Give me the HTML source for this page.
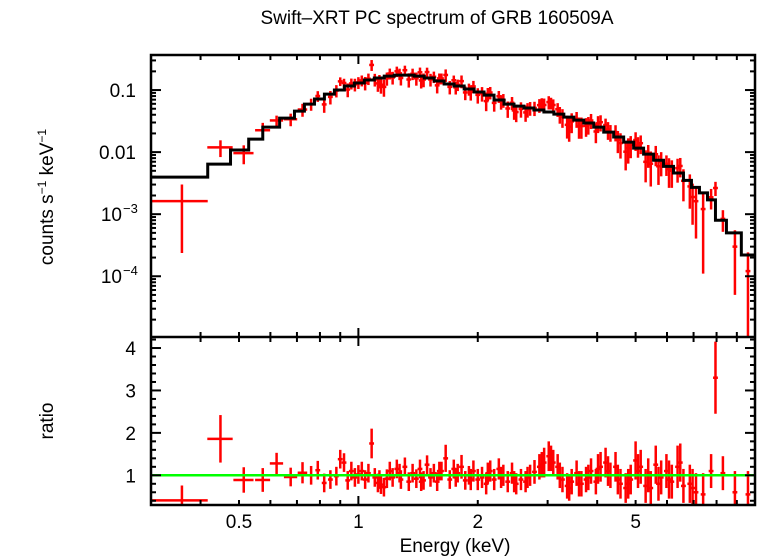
<!DOCTYPE html>
<html><head><meta charset="utf-8"><style>
html,body{margin:0;padding:0;background:#fff}
svg{display:block;font-family:"Liberation Sans",sans-serif}
</style></head><body>
<svg id="c" width="758" height="556" viewBox="0 0 758 556">
<text x="437" y="24" text-anchor="middle" font-size="19">Swift–XRT PC spectrum of GRB 160509A</text>
<text transform="translate(53,197) rotate(-90)" text-anchor="middle" font-size="19">counts s<tspan font-size="12" dy="-7">−1</tspan><tspan dy="7"> keV</tspan><tspan font-size="12" dy="-7">−1</tspan></text>
<text transform="translate(53,421) rotate(-90)" text-anchor="middle" font-size="19">ratio</text>
<text x="455" y="552" text-anchor="middle" font-size="19">Energy (keV)</text>
<g id="g"></g>
</svg>
<script>
// model bin edges (keV) and model values (counts/s/keV)
const modelEdges=[0.300,0.417,0.476,0.529,0.574,0.633,0.690,0.731,0.775,0.821,0.870,0.922,0.977,1.035,1.097,1.162,1.232,1.305,1.383,1.466,1.553,1.645,1.743,1.848,1.958,2.074,2.198,2.329,2.468,2.615,2.770,2.936,3.111,3.296,3.493,3.701,3.921,4.155,4.402,4.665,4.943,5.237,5.549,5.880,6.230,6.601,6.915,7.244,7.589,7.949,8.472,9.237,9.96];
const modelValues=[0.00395,0.0064,0.0108,0.0162,0.0253,0.0353,0.0458,0.0594,0.0716,0.0861,0.100,0.116,0.130,0.145,0.156,0.168,0.174,0.174,0.168,0.156,0.140,0.125,0.116,0.104,0.093,0.083,0.069,0.0594,0.0552,0.0513,0.0476,0.0442,0.041,0.0367,0.0328,0.0294,0.0253,0.021,0.0175,0.0145,0.0116,0.0093,0.0074,0.0059,0.0046,0.0035,0.0027,0.0022,0.0017,0.0008,0.0005,0.00022];
// data: energies, bin half-widths, ratio to model, ratio error
const energies=[0.359,0.449,0.514,0.574,0.622,0.675,0.723,0.76,0.79,0.82,0.85,0.88,0.90,0.92,0.94,0.96,0.98,1.00,1.02,1.04,1.06,1.08,1.10,1.12,1.14,1.16,1.18,1.20,1.22,1.25,1.28,1.31,1.34,1.37,1.40,1.43,1.46,1.49,1.52,1.55,1.58,1.62,1.66,1.70,1.74,1.78,1.82,1.86,1.90,1.95,2.00,2.05,2.10,2.15,2.20,2.26,2.32,2.38,2.44,2.50,2.57,2.64,2.71,2.78,2.86,2.94,3.02,3.10,3.18,3.27,3.36,3.45,3.55,3.65,3.75,3.86,3.97,4.08,4.20,4.32,4.45,4.58,4.72,4.86,5.00,5.15,5.30,5.46,5.62,5.80,5.98,6.17,6.38,6.60,6.85,7.10,7.40,7.75,7.95,8.3,8.9,9.6,
1.13,1.27,1.44,1.60,1.76,1.92,2.12,2.29,2.47,2.67,2.90,3.06,3.22,3.40,3.60,3.80,4.02,4.26,4.51,4.79,5.07,5.38,5.71,6.07,6.48,6.96];
const halfWidths=[0.058,0.033,0.030,0.025,0.024,0.026,0.020];
const ratios=[0.41,1.86,0.89,0.89,1.28,0.96,1.06,1.0,1.12,0.82,0.9,0.98,1.38,1.3,0.88,1.1,0.95,1.02,1.1,0.9,1.05,1.75,0.95,0.82,0.78,0.72,0.92,1.1,0.95,1.15,0.9,1.2,0.85,1.05,0.92,1.15,0.88,1.25,0.95,1.05,0.85,1.1,1.4,0.9,1.15,1.05,1.2,0.88,1.0,1.1,0.9,0.95,0.8,1.1,0.9,1.15,1.0,0.85,1.05,0.8,0.9,0.85,1.0,1.08,1.2,1.3,1.45,1.3,1.2,0.9,0.75,0.85,1.05,0.8,0.9,1.1,0.85,1.2,1.3,1.0,1.2,0.8,0.7,0.9,1.35,1.2,0.75,0.7,1.25,0.95,1.1,0.85,1.2,0.75,0.8,0.6,0.55,1.1,3.3,1.05,0.6,0.55,
0.9,1.05,0.85,1.1,0.95,0.9,1.05,0.95,0.85,0.95,1.25,1.4,1.0,0.7,0.8,0.95,1.15,1.1,0.9,0.8,1.1,1.0,0.8,0.9,1.3,0.7];
const ratioErrs=[0.35,0.56,0.3,0.28,0.25,0.22,0.25,0.22,0.22,0.22,0.22,0.22,0.22,0.22,0.22,0.22,0.22,0.22,0.22,0.22,0.22,0.35,0.22,0.22,0.22,0.22,0.22,0.22,0.22,0.22,0.22,0.22,0.22,0.22,0.22,0.22,0.22,0.22,0.22,0.22,0.22,0.22,0.32,0.22,0.22,0.22,0.28,0.22,0.22,0.25,0.25,0.25,0.25,0.25,0.25,0.25,0.25,0.25,0.25,0.25,0.25,0.25,0.25,0.28,0.3,0.35,0.35,0.3,0.3,0.3,0.3,0.3,0.3,0.3,0.3,0.3,0.3,0.35,0.35,0.3,0.35,0.35,0.35,0.35,0.45,0.4,0.4,0.4,0.45,0.4,0.4,0.4,0.5,0.4,0.45,0.45,0.5,0.4,0.85,0.4,0.5,0.55,
0.22,0.22,0.22,0.22,0.22,0.25,0.25,0.25,0.25,0.25,0.3,0.3,0.3,0.3,0.3,0.3,0.35,0.35,0.35,0.35,0.4,0.4,0.4,0.45,0.45,0.45];
const xTickLabels=["0.5","1","2","5"];
const xTickValues=[0.5,1,2,5];
const yTickLabels=["0.1","0.01","10","10"];
const yTickExp=[null,null,"−3","−4"];
const yTickValues=[0.1,0.01,0.001,0.0001];
const rTickValues=[1,2,3,4];

const L=151,R=755,T=55,M=337,B=505;
const xmin=0.3,xmax=10,ymin=1.05e-5,ymax=0.367,rmin=0.3,rmax=4.26;
const X=e=>L+(Math.log10(e)-Math.log10(xmin))/(Math.log10(xmax)-Math.log10(xmin))*(R-L);
const Y=v=>{v=Math.max(v,ymin*0.5);return M-(Math.log10(v)-Math.log10(ymin))/(Math.log10(ymax)-Math.log10(ymin))*(M-T);};
const YR=r=>B-(r-rmin)/(rmax-rmin)*(B-M);
const NS="http://www.w3.org/2000/svg";
const gRoot=document.getElementById('g');
function mk(t,a,p){const el=document.createElementNS(NS,t);for(const k in a)el.setAttribute(k,a[k]);(p||gRoot).appendChild(el);return el;}
function modelAt(e){for(let i=0;i<modelValues.length;i++){if(e>=modelEdges[i]&&e<modelEdges[i+1])return modelValues[i];}return modelValues[modelValues.length-1];}

const defsEl=mk('defs',{});
const cp1=mk('clipPath',{id:'cpTop'},defsEl);mk('rect',{x:L,y:T,width:R-L,height:M-T},cp1);
const cp2=mk('clipPath',{id:'cpBot'},defsEl);mk('rect',{x:L,y:M,width:R-L,height:B-M},cp2);
const topG=mk('g',{'clip-path':'url(#cpTop)'});


const botG=mk('g',{'clip-path':'url(#cpBot)'});



energies.forEach((e,i)=>{
  const hw=i<halfWidths.length?halfWidths[i]:e*0.014;
  const m=modelAt(e);
  const v=ratios[i]*m, er=ratioErrs[i]*m;
  const x=X(e),x0=X(e-hw),x1=X(e+hw);
  const dp=mk('g',{stroke:'#ff0000','stroke-width':2.5},topG);
  
  
  mk('line',{x1:x0,x2:x1,y1:Y(v),y2:Y(v)},dp);
  mk('line',{x1:x,x2:x,y1:Y(v+er),y2:Y(v-er)},dp);
  const rp=mk('g',{stroke:'#ff0000','stroke-width':2.5},botG);
  
  
  mk('line',{x1:x0,x2:x1,y1:YR(ratios[i]),y2:YR(ratios[i])},rp);
  mk('line',{x1:x,x2:x,y1:YR(ratios[i]+ratioErrs[i]),y2:YR(Math.max(ratios[i]-ratioErrs[i],0))},rp);
});
let d='';
modelValues.forEach((v,i)=>{const x0=X(modelEdges[i]),x1=X(modelEdges[i+1]),y=Y(v);d+=(i===0?'M':'L')+x0+','+y+'L'+x1+','+y;});
const mp=mk('path',{d:d,fill:'none',stroke:'#000','stroke-width':3},topG);


const gl=mk('line',{x1:L,x2:R,y1:YR(1),y2:YR(1),stroke:'#00ff00','stroke-width':2.5},botG);



const fr=mk('g',{stroke:'#000','stroke-width':2.5,fill:'none'});


mk('rect',{x:L,y:T,width:R-L,height:B-T},fr);
mk('line',{x1:L,x2:R,y1:M,y2:M},fr);
const tk=mk('g',{stroke:'#000','stroke-width':2});


[0.1,1].forEach(dec=>{for(let k=1;k<=9;k++){const e=k*dec;if(e<xmin-1e-9||e>xmax+1e-9)continue;const x=X(e);const len=(k===1)?9:5;
  [T,M].forEach(y=>mk('line',{x1:x,x2:x,y1:y,y2:y+len},tk));
  [M,B].forEach(y=>mk('line',{x1:x,x2:x,y1:y,y2:y-len},tk));}});
for(let p=-5;p<0;p++){for(let k=1;k<=9;k++){const v=k*Math.pow(10,p);if(v<ymin||v>ymax)continue;const y=Y(v);const len=k===1?10:5;
  mk('line',{x1:L,x2:L+len,y1:y,y2:y},tk);mk('line',{x1:R,x2:R-len,y1:y,y2:y},tk);}}
for(let i=2;i<=21;i++){const rr=i/5;const y=YR(rr);const len=(i%5===0)?10:5;
  mk('line',{x1:L,x2:L+len,y1:y,y2:y},tk);mk('line',{x1:R,x2:R-len,y1:y,y2:y},tk);}
xTickValues.forEach((e,i)=>{const t=mk('text',{x:X(e),y:528,'text-anchor':'middle','font-size':19});t.textContent=xTickLabels[i];
  
  });
yTickValues.forEach((v,i)=>{const t=mk('text',{x:yTickExp[i]?122:136,y:Y(v)+7,'text-anchor':'end','font-size':19});t.textContent=yTickLabels[i];
  
  
  if(yTickExp[i]){const s=mk('text',{x:123,y:Y(v)-1,'font-size':13});s.textContent=yTickExp[i];
    
    }});
rTickValues.forEach(r=>{const t=mk('text',{x:136,y:YR(r)+7,'text-anchor':'end','font-size':19});t.textContent=String(r);
  
  });
</script>
</body></html>
